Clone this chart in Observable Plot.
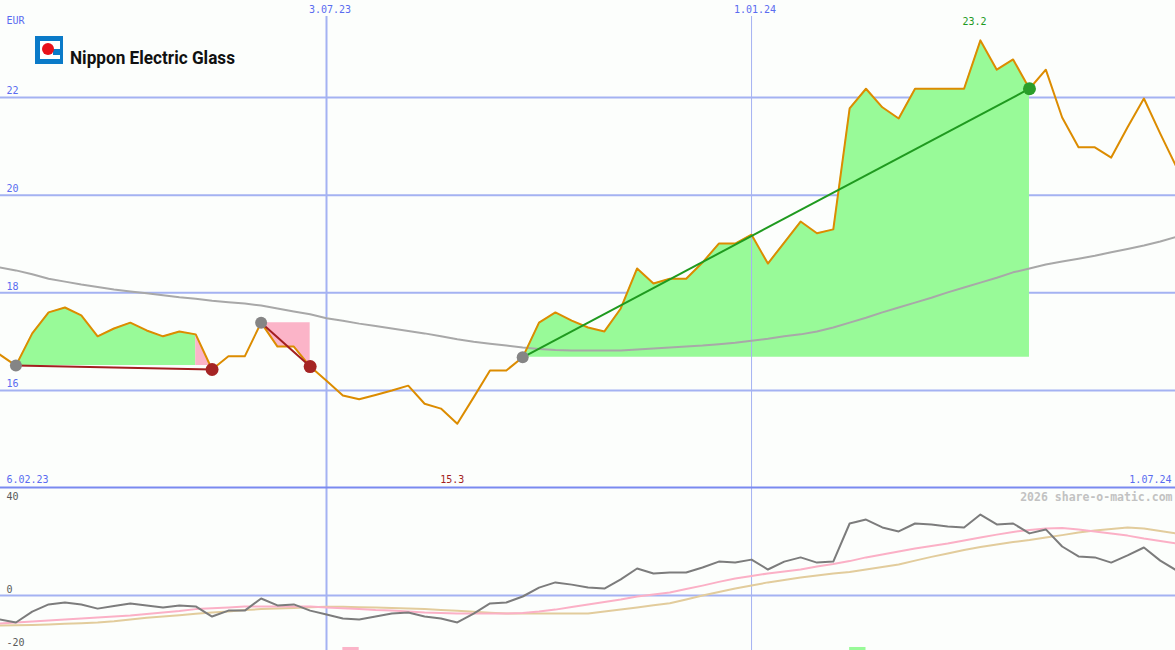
<!DOCTYPE html>
<html><head><meta charset="utf-8">
<script src="https://cdn.jsdelivr.net/npm/d3@7"></script>
<script src="https://cdn.jsdelivr.net/npm/@observablehq/plot@0.6"></script>
<style>
body{margin:0;background:#fcfefc;}
#wrap{position:relative;width:1175px;height:650px;overflow:hidden;background:#fcfefc;}
#wrap svg{display:block}
#logo{position:absolute;left:0;top:0;}
</style></head><body><div id="wrap"></div>
<script>
// ---- data (weekly closes, EUR) ----
const firstWeek = "2023-02-13";
const price = [16.74,16.51,17.17,17.60,17.70,17.54,17.11,17.27,17.39,17.23,17.11,17.21,17.15,16.43,16.70,16.70,17.39,16.90,16.90,16.49,16.20,15.90,15.82,15.91,16.00,16.10,15.73,15.63,15.32,15.86,16.41,16.41,16.68,17.39,17.60,17.43,17.29,17.21,17.68,18.50,18.19,18.29,18.29,18.62,19.01,19.01,19.19,18.60,19.03,19.46,19.22,19.30,21.78,22.18,21.80,21.57,22.18,22.18,22.18,22.18,23.17,22.57,22.78,22.18,22.57,21.59,20.98,20.98,20.77,21.39,21.98,21.26,20.57];
const movingAvg = [18.52,18.46,18.38,18.29,18.23,18.17,18.12,18.07,18.03,17.99,17.95,17.91,17.88,17.84,17.81,17.78,17.74,17.68,17.62,17.56,17.48,17.43,17.37,17.32,17.27,17.22,17.17,17.11,17.05,17.00,16.96,16.92,16.88,16.85,16.83,16.82,16.82,16.82,16.82,16.84,16.86,16.88,16.90,16.92,16.95,16.98,17.02,17.06,17.11,17.15,17.21,17.29,17.39,17.49,17.60,17.70,17.80,17.90,18.01,18.11,18.21,18.31,18.42,18.50,18.58,18.64,18.70,18.76,18.83,18.90,18.97,19.05,19.15];
const oscGray = [-9.7,-10.9,-6.5,-3.6,-2.8,-3.6,-5.3,-4.2,-3.2,-4.0,-4.8,-4.0,-4.4,-8.5,-6.1,-6.1,-1.2,-4.0,-3.6,-6.1,-7.7,-9.3,-9.7,-8.5,-7.3,-6.9,-8.5,-9.3,-10.9,-7.3,-3.2,-2.8,-0.4,3.2,5.3,4.4,3.2,2.8,6.5,10.9,8.9,9.3,9.3,11.3,13.7,13.3,14.5,10.5,13.7,15.4,13.3,13.7,29.1,30.7,27.5,25.9,29.1,28.7,27.9,27.5,32.7,28.7,29.1,25.1,26.7,19.8,15.8,15.4,13.3,16.2,19.4,14.1,10.1];
const oscPink = [-11.3,-10.9,-10.5,-10.1,-9.7,-9.3,-8.9,-8.5,-8.1,-7.5,-6.9,-6.3,-5.5,-5.1,-4.8,-4.4,-4.4,-4.4,-4.4,-4.4,-4.8,-5.1,-5.5,-5.9,-6.1,-6.5,-6.9,-7.1,-7.3,-7.3,-7.3,-7.3,-7.1,-6.5,-5.7,-4.6,-3.6,-2.6,-1.6,-0.4,0.4,1.2,2.6,4.0,5.5,6.9,7.9,8.9,9.7,10.5,11.7,12.7,13.9,15.4,16.6,17.8,19.0,20.0,21.0,22.2,23.4,24.6,25.7,26.5,27.1,27.3,26.7,25.9,25.1,24.2,23.0,22.0,21.0];
const oscTan = [-12.1,-12.0,-11.9,-11.7,-11.4,-11.2,-10.9,-10.4,-9.7,-9.0,-8.5,-8.0,-7.4,-6.9,-6.5,-5.9,-5.5,-5.3,-5.0,-4.7,-4.5,-4.5,-4.7,-4.8,-5.0,-5.2,-5.5,-5.9,-6.2,-6.6,-7.0,-7.3,-7.3,-7.3,-7.3,-7.3,-7.3,-6.5,-5.7,-4.8,-3.9,-3.1,-1.6,0,1.4,2.8,4.0,5.3,6.3,7.3,8.1,8.9,9.5,10.5,11.5,12.5,14.1,15.6,17.0,18.4,19.6,20.6,21.6,22.4,23.4,24.4,25.5,26.3,26.9,27.5,27.1,26.1,25.1];
const priceTicks = [16, 18, 20, 22];
const oscTicks = [40, 0, -20];
const dateTicks = ["2023-07-03", "2024-01-01"];
const dateTickLabels = ["3.07.23", "1.01.24"];
const edgeLabels = ["6.02.23", "1.07.24"];
const unitLabel = "EUR";
const trendStart = ["2023-02-20", "2023-06-05", "2023-09-25"];
const trendEnd = ["2023-05-15", "2023-06-26", "2024-04-29"];
const trendDir = ["down", "down", "up"];
const fillFrom = ["2023-02-20", "2023-05-08", "2023-06-05", "2023-09-25"];
const fillTo = ["2023-05-08", "2023-05-15", "2023-06-26", "2024-04-29"];
const fillKind = ["up", "down", "down", "up"];
const fillTrend = [0, 0, 1, 2];
const signalDates = ["2023-07-10", "2024-02-12"];
const signalKind = ["down", "up"];
const watermark = "2026 share-o-matic.com";
const company = "Nippon Electric Glass";

// ---- build ----
const DAY = 864e5;
const t0 = new Date(firstWeek).getTime();
const dates = price.map((_, i) => new Date(t0 + i * 7 * DAY));
const rows = dates.map((d, i) => ({date: d, price: price[i], ma: movingAvg[i], g: oscGray[i], p: oscPink[i], t: oscTan[i]}));
const idx = s => rows.findIndex(r => +r.date === +new Date(s));
const xDomain = [new Date(Date.UTC(2023, 1, 13, 9, 46)), new Date(Date.UTC(2024, 5, 30, 12, 40))];
const yUp = [14.014, 23.987];
const yLow = [-22.22, 43.64];

const UP = "#1f9a1f", DOWN = "#a31f1f";
const GRID = "#a4b2f2", SEP = "#7a8af0", LBL = "#5a6cf0";
const MONO = "DejaVu Sans Mono, monospace";

const trends = trendStart.map((s, j) => {
  const a = idx(s), b = idx(trendEnd[j]);
  return {x1: rows[a].date, y1: rows[a].price, x2: rows[b].date, y2: rows[b].price, dir: trendDir[j]};
});
const fills = fillFrom.map((s, j) => {
  const a = idx(s), b = idx(fillTo[j]);
  const base = rows[idx(trendStart[fillTrend[j]])].price;
  return Plot.areaY(rows.slice(a, b + 1), {x: "date", y1: base, y2: "price", fill: fillKind[j] === "up" ? "#98fa98" : "#fbb4c8"});
});
const iMax = d3.maxIndex(price), iMin = d3.minIndex(price);
const fmt = d3.format(".1f");

const upper = Plot.plot({
  width: 1175, height: 487, margin: 0,
  x: {type: "utc", domain: xDomain, axis: null},
  y: {domain: yUp, axis: null},
  style: {background: "#fcfefc", fontFamily: MONO},
  marks: [
    Plot.ruleY(priceTicks, {stroke: GRID, strokeWidth: 2}),
    ...fills,
    Plot.ruleX([dateTicks[0]], {x: d => new Date(d), stroke: GRID, strokeWidth: 2, insetTop: 16}),
    Plot.ruleX([dateTicks[1]], {x: d => new Date(d), stroke: GRID, strokeWidth: 1, insetTop: 16}),
    Plot.line(rows, {x: "date", y: "ma", stroke: "#a8a8a8", strokeWidth: 2}),
    Plot.line(rows, {x: "date", y: "price", stroke: "#dc8c00", strokeWidth: 2}),
    Plot.link(trends, {x1: "x1", y1: "y1", x2: "x2", y2: "y2", stroke: d => d.dir === "up" ? UP : DOWN, strokeWidth: 2}),
    Plot.dot(trends, {x: "x1", y: "y1", r: 6, fill: "#858585"}),
    Plot.dot(trends, {x: "x2", y: "y2", r: 6.5, fill: d => d.dir === "up" ? "#2a9e2a" : "#a52424"}),
    Plot.ruleY([yUp[0]], {stroke: SEP, strokeWidth: 2}),
    Plot.text(priceTicks, {frameAnchor: "left", y: d => d, text: d => String(d), dx: 6, dy: -6.5, textAnchor: "start", fill: LBL, fontSize: 10, fontFamily: MONO}),
    Plot.text([unitLabel], {frameAnchor: "top-left", text: d => d, dx: 6, dy: 20, lineAnchor: "middle", textAnchor: "start", fill: LBL, fontSize: 10, fontFamily: MONO}),
    Plot.text(dateTicks, {x: d => new Date(d), frameAnchor: "top", text: (d, i) => dateTickLabels[i], dx: 3.5, dy: 9, lineAnchor: "middle", fill: LBL, fontSize: 10, fontFamily: MONO}),
    Plot.text([edgeLabels[0]], {frameAnchor: "bottom-left", text: d => d, dx: 6, dy: -8, lineAnchor: "middle", textAnchor: "start", fill: LBL, fontSize: 10, fontFamily: MONO}),
    Plot.text([edgeLabels[1]], {frameAnchor: "bottom-right", text: d => d, dx: -4, dy: -8, lineAnchor: "middle", textAnchor: "end", fill: LBL, fontSize: 10, fontFamily: MONO}),
    Plot.text([rows[iMax]], {x: "date", frameAnchor: "top", text: d => fmt(d.price), dx: -6, dy: 21, lineAnchor: "middle", fill: UP, fontSize: 10, fontFamily: MONO}),
    Plot.text([rows[iMin]], {x: "date", frameAnchor: "bottom", text: d => fmt(d.price), dx: -5, dy: -8, lineAnchor: "middle", fill: DOWN, fontSize: 10, fontFamily: MONO})
  ]
});

const signals = signalDates.map((s, j) => ({x1: new Date(s), x2: new Date(new Date(s).getTime() + 7 * DAY), kind: signalKind[j]}));
const lower = Plot.plot({
  width: 1175, height: 163, margin: 0,
  x: {type: "utc", domain: xDomain, axis: null},
  y: {domain: yLow, axis: null},
  style: {background: "#fcfefc", fontFamily: MONO},
  marks: [
    Plot.ruleY([0], {stroke: GRID, strokeWidth: 2}),
    Plot.ruleX([dateTicks[0]], {x: d => new Date(d), stroke: GRID, strokeWidth: 2}),
    Plot.ruleX([dateTicks[1]], {x: d => new Date(d), stroke: GRID, strokeWidth: 1}),
    Plot.rect(signals, {x1: "x1", x2: "x2", y1: yLow[0], y2: -21.0, fill: d => d.kind === "up" ? "#98fa98" : "#fbb4c8"}),
    Plot.line(rows, {x: "date", y: "t", stroke: "#e2cc9c", strokeWidth: 2}),
    Plot.line(rows, {x: "date", y: "p", stroke: "#fbb0c6", strokeWidth: 2}),
    Plot.line(rows, {x: "date", y: "g", stroke: "#7c7c7c", strokeWidth: 2}),
    Plot.ruleY([yLow[1]], {stroke: SEP, strokeWidth: 2}),
    Plot.text([oscTicks[0]], {frameAnchor: "left", y: d => d, text: d => String(d), dx: 6, dy: 0, textAnchor: "start", fill: "#5a5a5a", fontSize: 10, fontFamily: MONO}),
    Plot.text([oscTicks[1]], {frameAnchor: "left", y: d => d, text: d => String(d), dx: 6, dy: -6, textAnchor: "start", fill: "#5a5a5a", fontSize: 10, fontFamily: MONO}),
    Plot.text([oscTicks[2]], {frameAnchor: "left", y: d => d, text: d => String(d), dx: 6, dy: -2, textAnchor: "start", fill: "#5a5a5a", fontSize: 10, fontFamily: MONO}),
    Plot.text([watermark], {frameAnchor: "top-right", text: d => d, dx: -3, dy: 10, lineAnchor: "middle", textAnchor: "end", fill: "#c2c2c2", fontSize: 11.5, fontWeight: "bold", fontFamily: MONO})
  ]
});

const wrap = document.getElementById("wrap");
wrap.appendChild(upper);
wrap.appendChild(lower);

// logo
const ns = "http://www.w3.org/2000/svg";
const logo = document.createElementNS(ns, "svg");
logo.setAttribute("id", "logo");
logo.setAttribute("width", "260");
logo.setAttribute("height", "80");
logo.innerHTML = `
  <rect x="35" y="36" width="28" height="28" fill="#0a7ac8"/>
  <rect x="40" y="41" width="20" height="18" fill="#ffffff"/>
  <rect x="53" y="49" width="7" height="6" fill="#0a7ac8"/>
  <circle cx="48" cy="49" r="6" fill="#e8101a"/>
  <text x="70" y="63.5" font-family="Liberation Sans Narrow, Arial Narrow, Roboto, sans-serif" font-weight="bold" font-size="19" textLength="165" lengthAdjust="spacingAndGlyphs" fill="#111">${company}</text>`;
wrap.appendChild(logo);
</script>
</body></html>
